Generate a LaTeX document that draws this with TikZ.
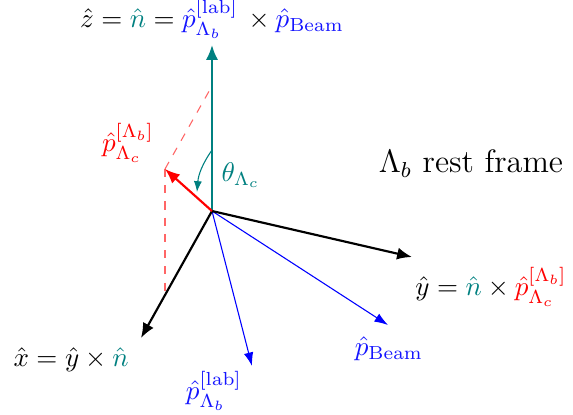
\documentclass[tikz,border=0pt]{standalone}
\usepackage{amsmath}
\usetikzlibrary{arrows.meta}
\definecolor{tealc}{RGB}{0,128,128}
\definecolor{bluec}{RGB}{20,20,255}
\begin{document}
\begin{tikzpicture}[x=0.37pt,y=-0.37pt,
  axis/.style={line width=0.8pt,-{Latex[length=5.5pt,width=4.5pt]}},
  beam/.style={blue,line width=0.4pt,-{Latex[length=5pt,width=3.5pt]}},
  proj/.style={red!60,dashed,line width=0.4pt},
  lbl/.style={inner sep=1pt}]
\useasboundingbox (0,0) rectangle (573,414);
\coordinate (O) at (212,211);
\coordinate (Z) at (212,45);
\coordinate (Y) at (412,257);
\coordinate (X) at (141,338);
\coordinate (PB) at (388,325);
\coordinate (PL) at (252,366);
\coordinate (PC) at (165,169);
\coordinate (ZT) at (212,86);
\coordinate (PD) at (165,294);
\coordinate (A1) at (212,150);
\coordinate (A2) at (197,192);
% projections
\draw[proj] (PC) -- (ZT);
\draw[proj] (PC) -- (PD);
% beams
\draw[beam] (O) -- (PB);
\draw[beam] (O) -- (PL);
% axes
\draw[axis,tealc] (O) -- (Z);
\draw[axis,black] (O) -- (Y);
\draw[axis,black] (O) -- (X);
\draw[axis,red] (O) -- (PC);
% angle
\draw[tealc,line width=0.4pt,-{Latex[length=4pt,width=3pt]}] (A1) to[bend right=15] (A2);
% labels
\node[lbl] (zl) at (212,19) {$\hat{z}=\color{tealc}\hat{n}\color{black}=\color{bluec}\hat{p}^{[\mathrm{lab}]}_{\Lambda_b}\color{black}\,\times\color{bluec}\hat{p}_{\mathrm{Beam}}$};
\node[lbl,text=red] (pcl) at (128,143) {$\hat{p}^{[\Lambda_b]}_{\Lambda_c}$};
\node[lbl,text=tealc] (thl) at (241,175) {$\theta_{\Lambda_c}$};
\node[lbl] (rf) at (471,164) {\large $\Lambda_b$ rest frame};
\node[lbl] (yl) at (491,287) {$\hat{y}=\color{tealc}\hat{n}\color{black}\times\color{red}\hat{p}^{[\Lambda_b]}_{\Lambda_c}$};
\node[lbl] (xl) at (71,360) {$\hat{x}=\hat{y}\times\color{tealc}\hat{n}$};
\node[lbl,text=bluec] (pbl) at (389,349) {$\hat{p}_{\mathrm{Beam}}$};
\node[lbl,text=bluec] (pll) at (214,391) {$\hat{p}^{[\mathrm{lab}]}_{\Lambda_b}$};
\end{tikzpicture}
\end{document}
